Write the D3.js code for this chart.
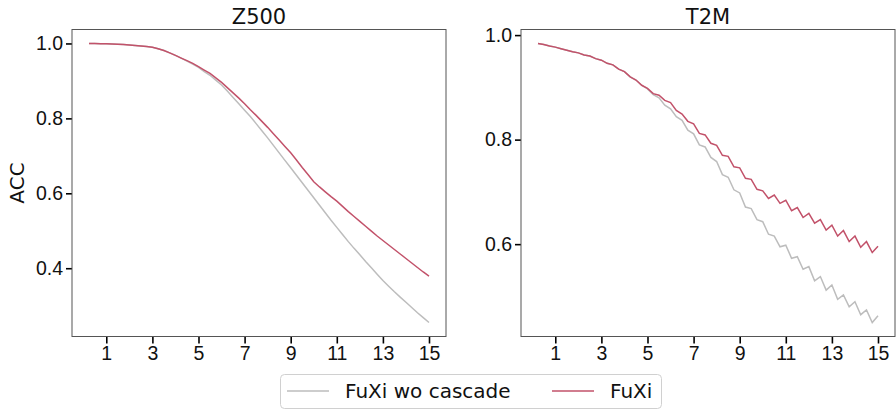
<!DOCTYPE html>
<html>
<head>
<meta charset="utf-8">
<script src="https://cdn.jsdelivr.net/npm/d3@7"></script>
<style>
  body { margin: 0; background: #fff; }
  svg { display: block; font-family: "DejaVu Sans", sans-serif; }
</style>
</head>
<body>
<svg id="chart" width="896" height="410"></svg>
<script>
// lead time in days, 6-hourly steps
const days = d3.range(1, 61).map(i => i * 0.25);

const z500Wo = [1.000, 0.9998, 0.9995, 0.999, 0.9985, 0.998, 0.997, 0.996, 0.9948, 0.9933,
  0.9918, 0.990, 0.986, 0.981, 0.975, 0.968, 0.961, 0.953, 0.945, 0.936,
  0.925, 0.915, 0.902, 0.889, 0.873, 0.856, 0.839, 0.822, 0.805, 0.786,
  0.767, 0.748, 0.728, 0.708, 0.688, 0.668, 0.648, 0.628, 0.608, 0.588,
  0.568, 0.548, 0.528, 0.509, 0.490, 0.471, 0.453, 0.436, 0.418, 0.401,
  0.384, 0.367, 0.352, 0.337, 0.323, 0.309, 0.295, 0.281, 0.268, 0.255];
const z500FuXi = [1.000, 0.9998, 0.9995, 0.999, 0.9985, 0.998, 0.997, 0.996, 0.9948, 0.9933,
  0.9918, 0.990, 0.986, 0.981, 0.975, 0.968, 0.961, 0.954, 0.947, 0.938,
  0.929, 0.920, 0.908, 0.896, 0.882, 0.868, 0.854, 0.839, 0.823, 0.808,
  0.792, 0.776, 0.759, 0.742, 0.725, 0.708, 0.689, 0.669, 0.650, 0.631,
  0.617, 0.604, 0.591, 0.579, 0.565, 0.551, 0.538, 0.525, 0.512, 0.499,
  0.486, 0.474, 0.462, 0.450, 0.438, 0.426, 0.414, 0.402, 0.390, 0.379];

const t2mWo = [0.984, 0.982, 0.979, 0.977, 0.974, 0.971, 0.968, 0.966, 0.962, 0.960,
  0.955, 0.952, 0.946, 0.943, 0.935, 0.930, 0.920, 0.914, 0.904, 0.897,
  0.886, 0.880, 0.866, 0.859, 0.844, 0.837, 0.818, 0.811, 0.790, 0.786,
  0.766, 0.758, 0.733, 0.728, 0.704, 0.698, 0.671, 0.668, 0.647, 0.643,
  0.619, 0.6155, 0.595, 0.598, 0.573, 0.576, 0.552, 0.557, 0.530, 0.538,
  0.512, 0.522, 0.4945, 0.503, 0.480, 0.490, 0.465, 0.474, 0.450, 0.463];
const t2mFuXi = [0.984, 0.982, 0.979, 0.977, 0.974, 0.971, 0.968, 0.966, 0.962, 0.960,
  0.955, 0.952, 0.946, 0.943, 0.935, 0.930, 0.920, 0.914, 0.904, 0.898,
  0.888, 0.885, 0.875, 0.871, 0.856, 0.849, 0.835, 0.830, 0.812, 0.809,
  0.793, 0.789, 0.770, 0.768, 0.748, 0.746, 0.726, 0.724, 0.705, 0.702,
  0.6875, 0.694, 0.678, 0.684, 0.664, 0.670, 0.651, 0.659, 0.640, 0.647,
  0.627, 0.6365, 0.6155, 0.626, 0.605, 0.6155, 0.594, 0.605, 0.584, 0.596];

const xTicks = [1, 3, 5, 7, 9, 11, 13, 15];
const panels = [
  { title: "Z500", wo: z500Wo, fuxi: z500FuXi, yTicks: [0.4, 0.6, 0.8, 1.0], left: 72 },
  { title: "T2M", wo: t2mWo, fuxi: t2mFuXi, yTicks: [0.6, 0.8, 1.0], left: 521 }
];
const seriesNames = ["FuXi wo cascade", "FuXi"];
const colors = ["#bdbdbd", "#c2526a"];

const svg = d3.select("#chart");
const plotW = 374, plotTop = 29.5, plotBottom = 336.5;

// matplotlib-like 5% padding around the data
function padded(lo, hi) {
  const p = (hi - lo) * 0.05;
  return [lo - p, hi + p];
}

panels.forEach(function(p) {
  const g = svg.append("g");
  const x = d3.scaleLinear()
    .domain(padded(d3.min(days), d3.max(days)))
    .range([p.left, p.left + plotW]);
  const all = p.wo.concat(p.fuxi);
  const y = d3.scaleLinear()
    .domain(padded(d3.min(all), d3.max(all)))
    .range([plotBottom, plotTop]);

  // axes
  const xa = g.append("g")
    .attr("transform", `translate(0,${plotBottom})`)
    .call(d3.axisBottom(x).tickValues(xTicks).tickSize(7).tickPadding(3).tickFormat(d3.format("d")));
  const ya = g.append("g")
    .attr("transform", `translate(${p.left},0)`)
    .call(d3.axisLeft(y).tickValues(p.yTicks).tickSize(6).tickPadding(3).tickFormat(d3.format(".1f")));
  [xa, ya].forEach(a => {
    a.select(".domain").remove();
    a.selectAll(".tick line").attr("stroke", "#000").attr("stroke-width", 1.6);
    a.selectAll(".tick text").attr("fill", "#111").style("font-size", "19.5px");
  });

  // lines
  [p.wo, p.fuxi].forEach(function(vals, i) {
    const line = d3.line()
      .x((d, j) => x(days[j]))
      .y(d => y(d));
    g.append("path")
      .datum(vals)
      .attr("fill", "none")
      .attr("stroke", colors[i])
      .attr("stroke-width", 1.5)
      .attr("d", line);
  });

  // frame
  g.append("rect")
    .attr("x", p.left).attr("y", plotTop)
    .attr("width", plotW).attr("height", plotBottom - plotTop)
    .attr("fill", "none").attr("stroke", "#555").attr("stroke-width", 1);

  g.append("text")
    .attr("x", p.left + plotW / 2).attr("y", 24)
    .attr("text-anchor", "middle")
    .style("font-size", "21px")
    .attr("fill", "#111")
    .text(p.title);
});

// y label
svg.append("text")
  .attr("transform", `translate(24,${(plotTop + plotBottom) / 2}) rotate(-90)`)
  .attr("text-anchor", "middle")
  .style("font-size", "20px")
  .attr("fill", "#111")
  .text("ACC");

// legend
const legend = svg.append("g");
legend.append("rect")
  .attr("x", 280.5).attr("y", 374.5).attr("width", 381).attr("height", 34)
  .attr("rx", 4).attr("fill", "#fff").attr("stroke", "#d0d0d0");
const legendX = [287, 552];
seriesNames.forEach(function(name, i) {
  legend.append("line")
    .attr("x1", legendX[i]).attr("x2", legendX[i] + 42)
    .attr("y1", 391).attr("y2", 391)
    .attr("stroke", colors[i]).attr("stroke-width", 1.5);
  legend.append("text")
    .attr("x", legendX[i] + 58).attr("y", 398)
    .style("font-size", "20px")
    .attr("fill", "#111")
    .text(name);
});
</script>
</body>
</html>
